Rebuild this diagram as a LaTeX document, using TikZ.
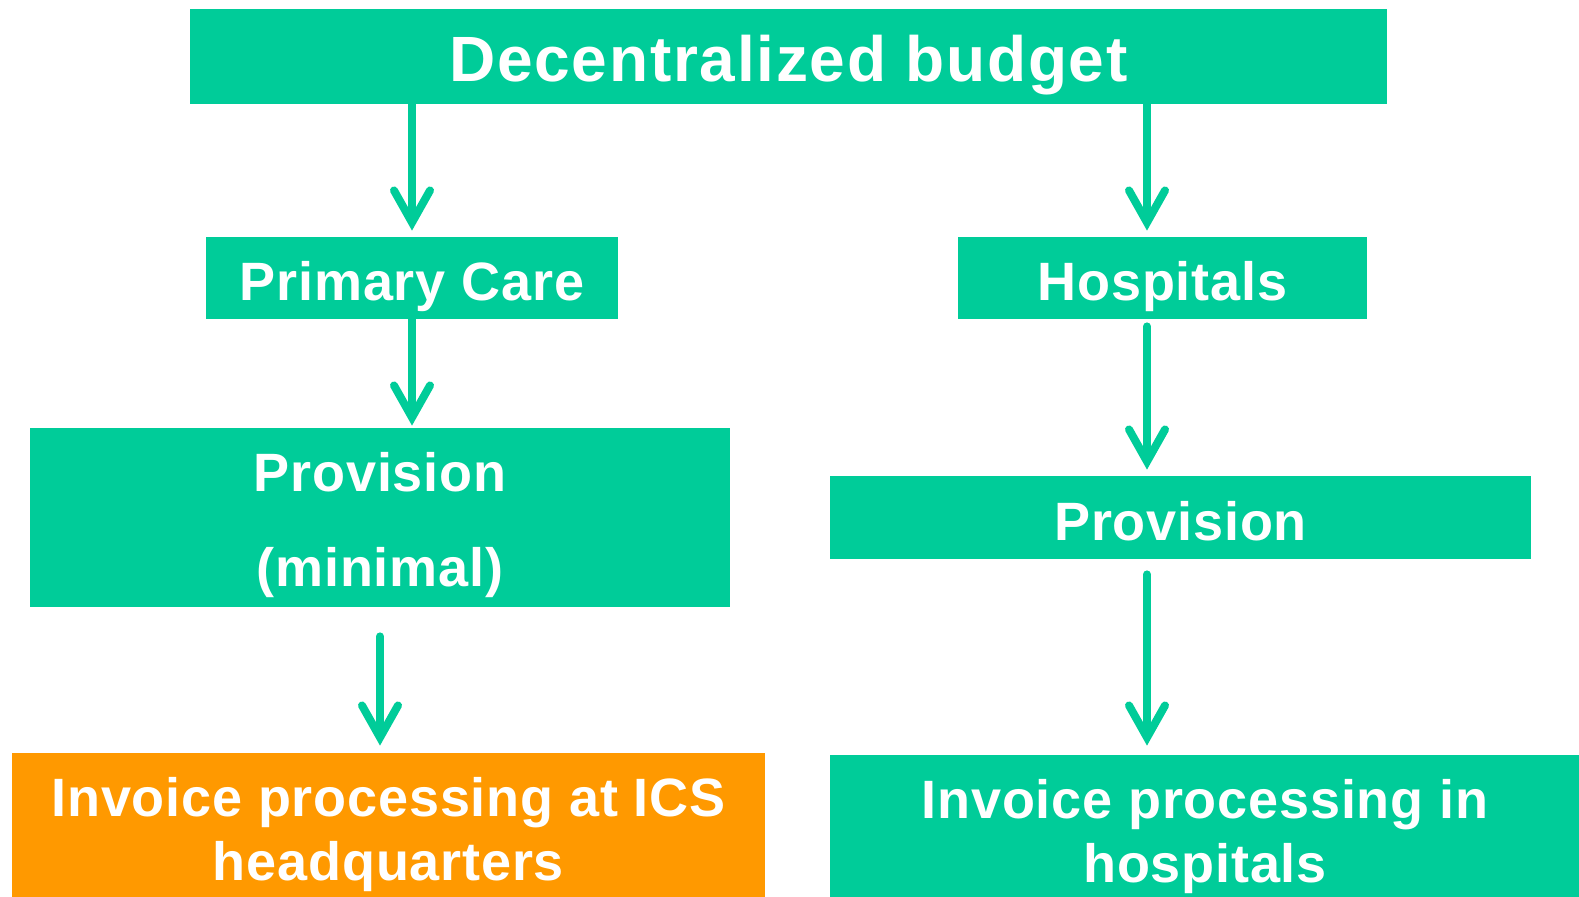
\documentclass[tikz,border=0pt]{standalone}
\usepackage{fontspec}
\setmainfont{Liberation Sans}
\newfontfamily\bodyf[LetterSpace=1.5]{Liberation Sans}
\newfontfamily\topf[LetterSpace=2.7]{Liberation Sans}
\usetikzlibrary{arrows.meta}
\definecolor{grn}{RGB}{0,204,153}
\definecolor{org}{RGB}{255,153,0}
\begin{document}
\begin{tikzpicture}[x=0.5pt,y=-0.5pt,
  box/.style={fill=grn, inner sep=0pt, text=white, align=center, text depth=0pt,
    font=\bodyf\bfseries\fontsize{27}{32}\selectfont},
  arr/.style={draw=grn, line width=4pt, line cap=round,
    -{Straight Barb[length=16pt,width=18pt,line join=miter,line cap=round]}}]
\useasboundingbox (0,0) rectangle (1579,896);
\node[box, minimum width=598.5pt, minimum height=47.5pt, text height=25.2pt,
  font=\topf\bfseries\fontsize{32}{36}\selectfont] (top) at (788.5,56.5) {Decentralized budget};
\node[box, minimum width=206pt, minimum height=41pt, text height=22.7pt] (prim) at (412,278) {Primary Care};
\node[box, minimum width=204.5pt, minimum height=41pt, text height=22.7pt] (hosp) at (1162.5,278) {Hospitals};
\node[box, minimum width=350pt, minimum height=89.5pt, text height=69.2pt,
  font=\bodyf\bfseries\fontsize{27}{47.8}\selectfont]
  (provl) at (380,517.5) {Provision\\(minimal)};
\node[box, minimum width=350.5pt, minimum height=41.5pt, text height=22.5pt] (provr) at (1180.5,517.5) {Provision};
\node[box, fill=org, minimum width=376.5pt, minimum height=82pt, text height=45.7pt] (invl) at (388.5,835)
  {Invoice processing at ICS\\headquarters};
\node[box, minimum width=375pt, minimum height=81pt, text height=46pt] (invr) at (1205,836)
  {Invoice processing in\\hospitals};
\coordinate (xl) at (412,0);
\coordinate (xr) at (1147,0);
\coordinate (xm) at (380,0);
\draw[arr, shorten >=3pt] (top.south -| xl) -- (prim.north -| xl);
\draw[arr, shorten >=3pt] (top.south -| xr) -- (hosp.north -| xr);
\draw[arr, shorten >=1pt] (prim.south -| xl) -- (provl.north -| xl);
\draw[arr, shorten <=3.5pt, shorten >=3pt] (hosp.south -| xr) -- (provr.north -| xr);
\draw[arr, shorten <=14.5pt, shorten >=3.5pt] (provl.south -| xm) -- (invl.north -| xm);
\draw[arr, shorten <=7.5pt, shorten >=4.5pt] (provr.south -| xr) -- (invr.north -| xr);
\end{tikzpicture}
\end{document}
